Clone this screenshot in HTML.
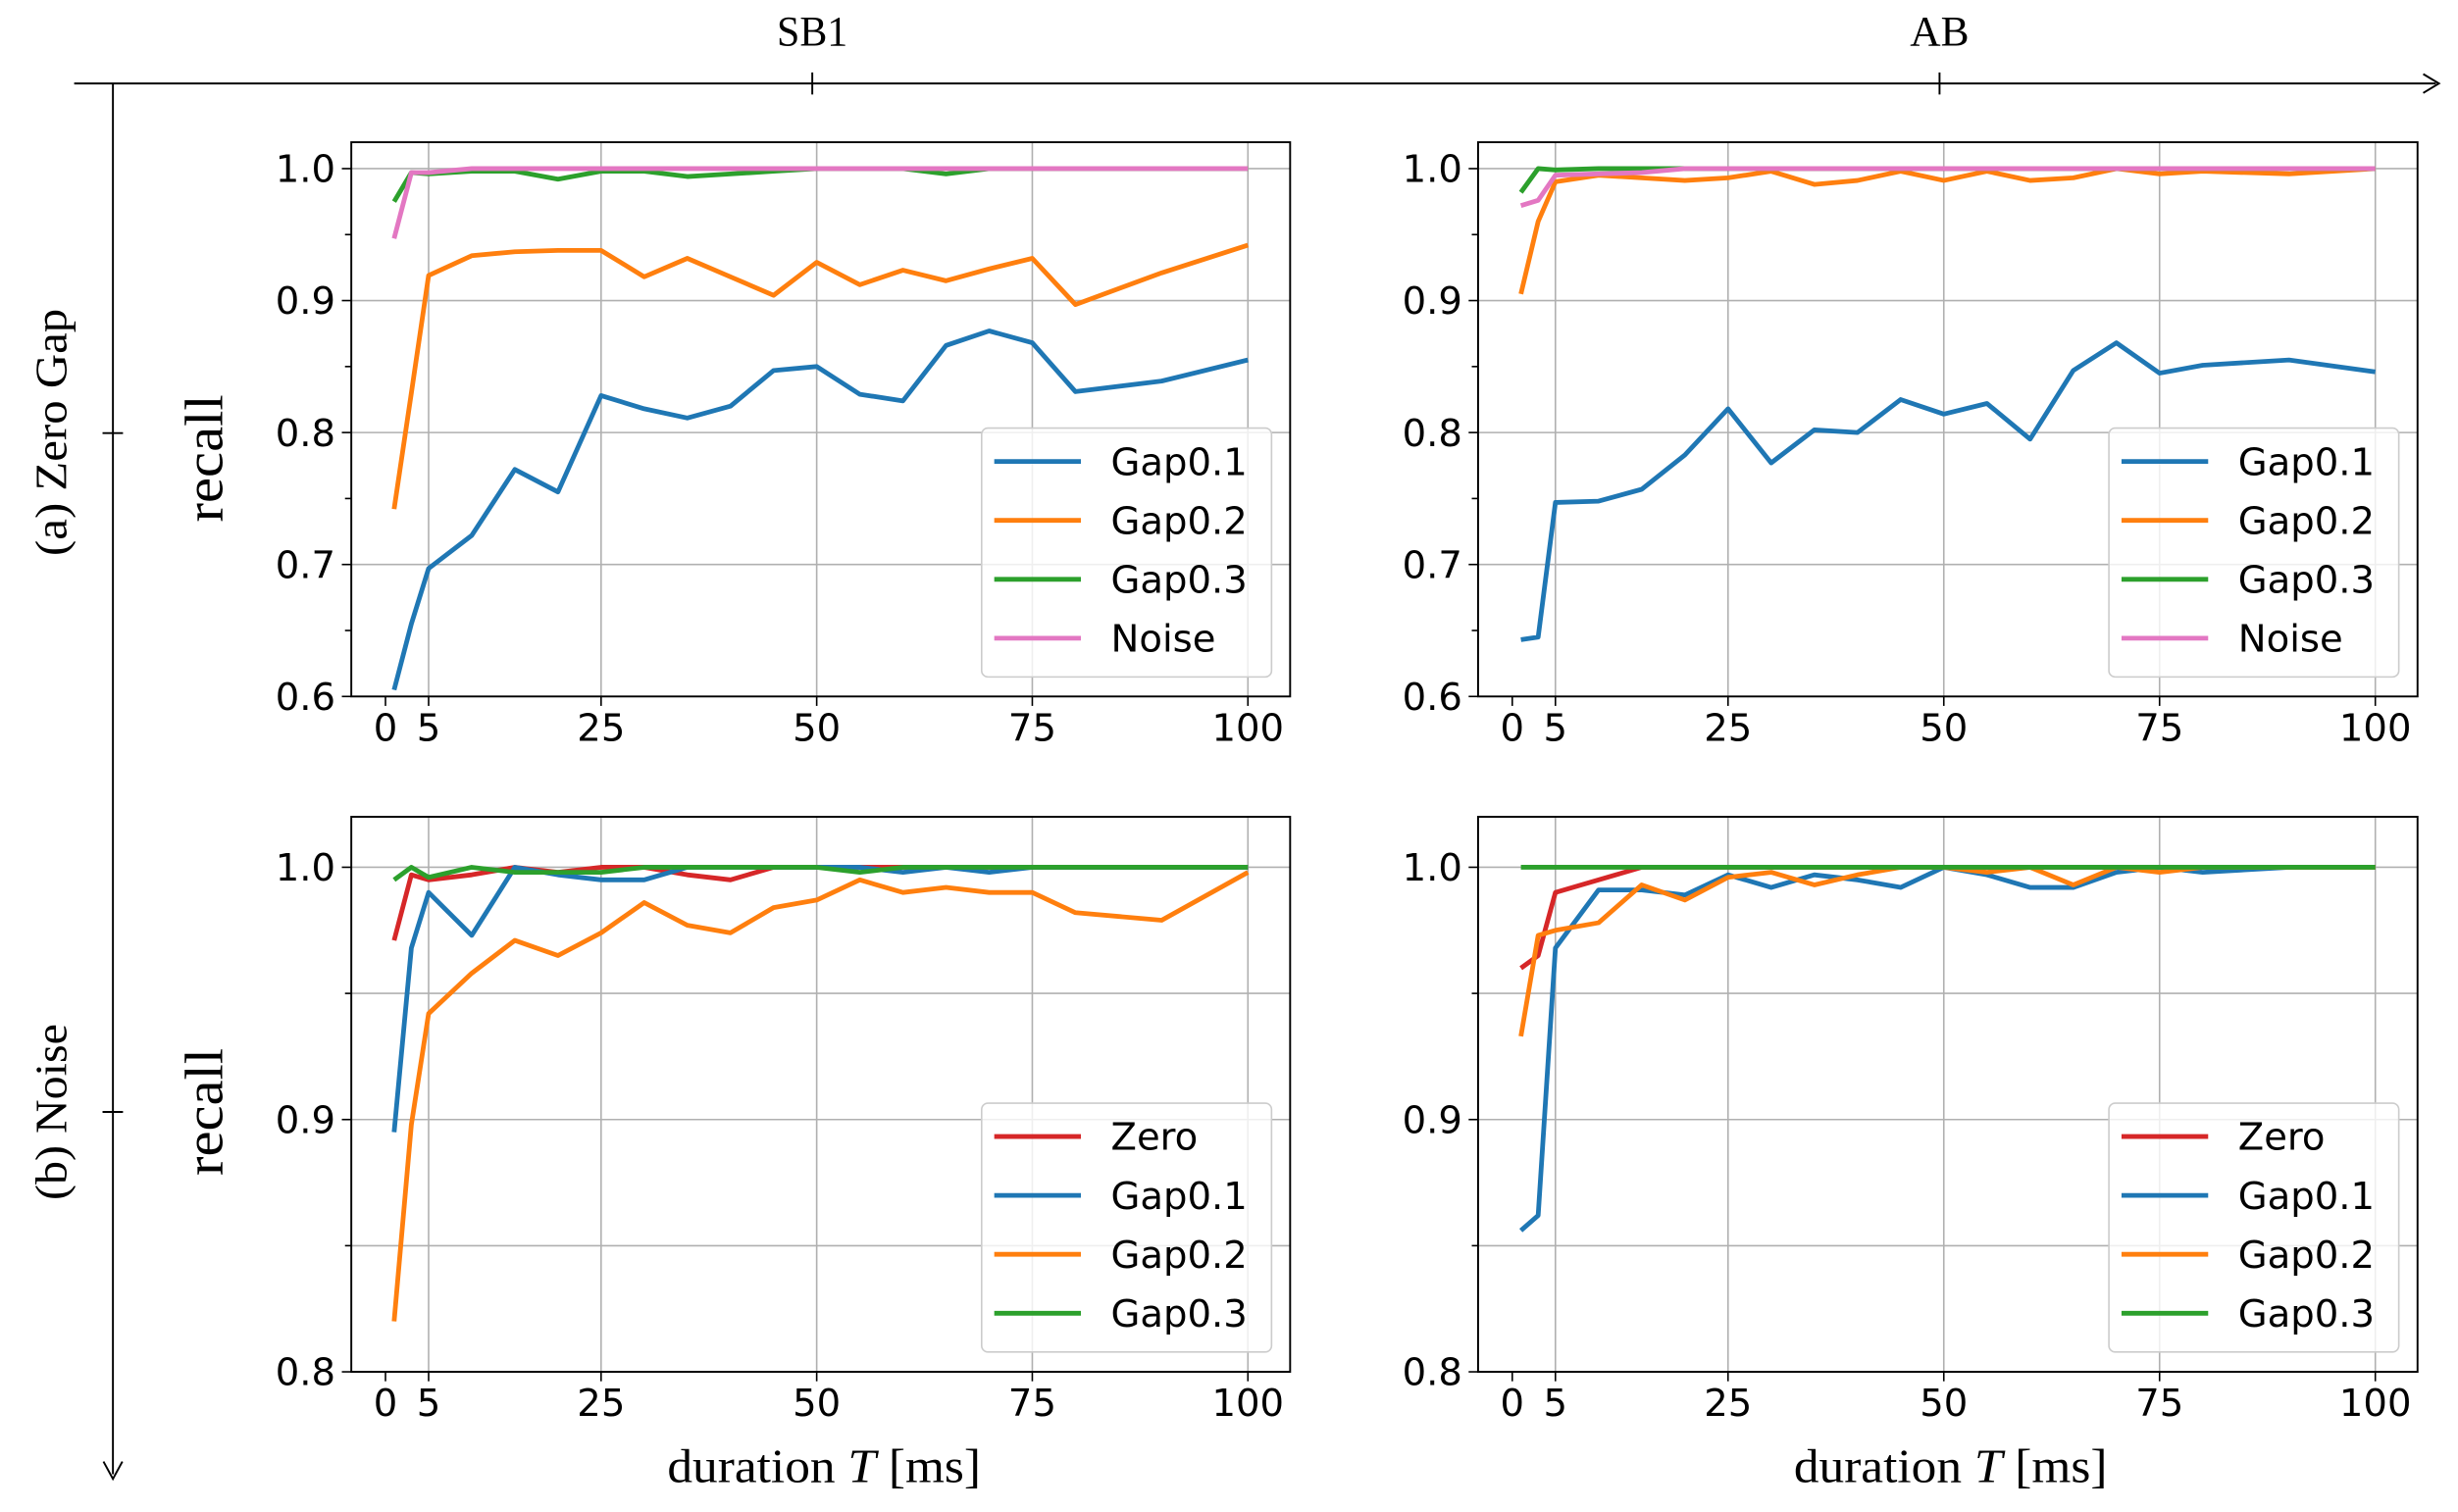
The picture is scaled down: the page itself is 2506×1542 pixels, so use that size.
<!DOCTYPE html>
<html><head><meta charset="utf-8"><style>
html,body{margin:0;padding:0;background:#fff}
svg{display:block}
.tk{font-family:"DejaVu Sans",sans-serif;font-size:24px;fill:#000}
.sf{font-family:"Liberation Serif",serif;fill:#000}
</style></head><body>
<svg id="fig" width="2506" height="1542" viewBox="0 0 1560 960" xmlns="http://www.w3.org/2000/svg">
<g>
<line x1="47" y1="53" x2="1546" y2="53" stroke="#000" stroke-width="1.2"/>
<path d="M1538 47 L1548 53 L1538 59" fill="none" stroke="#000" stroke-width="1.2"/>
<line x1="515.5" y1="46" x2="515.5" y2="60" stroke="#000" stroke-width="1.2"/>
<line x1="1231" y1="46" x2="1231" y2="60" stroke="#000" stroke-width="1.2"/>
<text class="sf" x="515.5" y="29" font-size="27" text-anchor="middle" textLength="45" lengthAdjust="spacingAndGlyphs">SB1</text>
<text class="sf" x="1231" y="29" font-size="27" text-anchor="middle">AB</text>
<line x1="71.6" y1="53" x2="71.6" y2="936" stroke="#000" stroke-width="1.2"/>
<path d="M65.6 928 L71.6 939 L77.6 928" fill="none" stroke="#000" stroke-width="1.2"/>
<line x1="65" y1="275" x2="78" y2="275" stroke="#000" stroke-width="1.2"/>
<line x1="65" y1="706" x2="78" y2="706" stroke="#000" stroke-width="1.2"/>
<text class="sf" font-size="28" text-anchor="middle" textLength="157" lengthAdjust="spacingAndGlyphs" transform="translate(42,274.5) rotate(-90)">(a) Zero Gap</text>
<text class="sf" font-size="28" text-anchor="middle" textLength="112" lengthAdjust="spacingAndGlyphs" transform="translate(42,706) rotate(-90)">(b) Noise</text>
<text class="sf" font-size="34" text-anchor="middle" textLength="81" lengthAdjust="spacingAndGlyphs" transform="translate(141,291) rotate(-90)">recall</text>
<text class="sf" font-size="34" text-anchor="middle" textLength="81" lengthAdjust="spacingAndGlyphs" transform="translate(141,706) rotate(-90)">recall</text>
<text class="sf" x="523" y="941" font-size="30" text-anchor="middle" textLength="199" lengthAdjust="spacingAndGlyphs">duration <tspan font-style="italic">T</tspan> [ms]</text>
<text class="sf" x="1238" y="941" font-size="30" text-anchor="middle" textLength="199" lengthAdjust="spacingAndGlyphs">duration <tspan font-style="italic">T</tspan> [ms]</text>
</g>
</svg>
<script>
const xs=[1,3,5,10,15,20,25,30,35,40,45,50,55,60,65,70,75,80,90,100];
const xTicks=[0,5,25,50,75,100];
const yTicksTop=[0.6,0.7,0.8,0.9,1.0];
const yTicksBot=[0.8,0.9,1.0];
const tl_g1=[0.605,0.655,0.697,0.722,0.772,0.755,0.828,0.818,0.811,0.820,0.847,0.850,0.829,0.824,0.866,0.877,0.868,0.831,0.839,0.855];
const tl_g2=[0.742,0.83,0.919,0.934,0.937,0.938,0.938,0.918,0.932,0.918,0.904,0.929,0.912,0.923,0.915,0.924,0.932,0.897,0.921,0.942];
const tl_g3=[0.975,0.997,0.996,0.998,0.998,0.992,0.998,0.998,0.994,0.996,0.998,1,1,1,0.996,1,1,1,1,1];
const tl_n=[0.947,0.997,0.997,1,1,1,1,1,1,1,1,1,1,1,1,1,1,1,1,1];
const tr_g1=[0.643,0.645,0.747,0.748,0.757,0.783,0.818,0.777,0.802,0.800,0.825,0.814,0.822,0.795,0.847,0.868,0.845,0.851,0.855,0.846];
const tr_g2=[0.905,0.96,0.99,0.995,0.993,0.991,0.993,0.998,0.988,0.991,0.998,0.991,0.998,0.991,0.993,1.0,0.996,0.998,0.996,1];
const tr_g3=[0.982,1.0,0.999,1,1,1,1,1,1,1,1,1,1,1,1,1,1,1,1,1];
const tr_n=[0.972,0.976,0.995,0.996,0.997,1,1,1,1,1,1,1,1,1,1,1,1,1,1,1];
const bl_z=[0.971,0.997,0.995,0.997,1.0,0.998,1,1,0.997,0.995,1,1,1,1,1,1,1,1,1,1];
const bl_g1=[0.895,0.968,0.990,0.973,1.0,0.997,0.995,0.995,1,1,1,1,1,0.998,1,0.998,1,1,1,1];
const bl_g2=[0.820,0.898,0.942,0.958,0.971,0.965,0.974,0.986,0.977,0.974,0.984,0.987,0.995,0.990,0.992,0.990,0.990,0.982,0.979,0.998];
const bl_g3=[0.995,1.0,0.996,1.0,0.998,0.998,0.998,1,1,1,1,1,0.998,1,1,1,1,1,1,1];
const br_z=[0.960,0.965,0.990,0.995,1,1,1,1,1,1,1,1,1,1,1,1,1,1,1,1];
const br_g1=[0.856,0.862,0.968,0.991,0.991,0.989,0.997,0.992,0.997,0.995,0.992,1.0,0.997,0.992,0.992,0.998,1.0,0.998,1,1];
const br_g2=[0.933,0.973,0.975,0.978,0.993,0.987,0.996,0.998,0.993,0.997,1.0,1.0,0.998,1.0,0.993,1.0,0.998,1,1,1];
const br_g3=[1,1,1,1,1,1,1,1,1,1,1,1,1,1,1,1,1,1,1,1];
const C={g1:'#1f77b4',g2:'#ff7f0e',g3:'#2ca02c',n:'#e377c2',z:'#d62728'};
const NS='http://www.w3.org/2000/svg';
const svg=document.getElementById('fig');
function mk(t,a,p){const e=document.createElementNS(NS,t);for(const k in a)e.setAttribute(k,a[k]);(p||svg).appendChild(e);return e;}
function panel(name,L,R,T,B,ymin,ymax,yTicks,minor,grids,series,legend){
  const g=mk('g',{});
  
  
  const x0=L+21.7,x1=R-26.8;
  const X=v=>x0+(v/100)*(x1-x0);
  const Y=v=>B-(v-ymin)/(ymax-ymin)*(B-T);
  xTicks.forEach(t=>{if(t>0){mk('line',{x1:X(t),x2:X(t),y1:T,y2:B,stroke:'#b0b0b0','stroke-width':1},g);}});
  grids.forEach(t=>mk('line',{x1:L,x2:R,y1:Y(t),y2:Y(t),stroke:'#b0b0b0','stroke-width':1},g));
  minor.forEach(t=>mk('line',{x1:L-4,x2:L,y1:Y(t),y2:Y(t),stroke:'#000','stroke-width':1},g));
  const tl=mk('g',{},g);
  
  
  xTicks.forEach(t=>{mk('line',{x1:X(t),x2:X(t),y1:B,y2:B+6,stroke:'#000','stroke-width':1},tl);
    const tx=mk('text',{x:X(t),y:B+28,'text-anchor':'middle',class:'tk'},tl);tx.textContent=t;});
  const yl=mk('g',{},g);
  
  
  yTicks.forEach(t=>{mk('line',{x1:L-6,x2:L,y1:Y(t),y2:Y(t),stroke:'#000','stroke-width':1},yl);
    const tx=mk('text',{x:L-10,y:Y(t)+8.5,'text-anchor':'end',class:'tk'},yl);tx.textContent=t.toFixed(1);});
  series.forEach(s=>{
    const p=mk('polyline',{points:xs.map((x,i)=>X(x)+','+Y(s.d[i])).join(' '),fill:'none',stroke:s.c,'stroke-width':3,'stroke-linejoin':'round'},g);
    
    
  });
  mk('rect',{x:L,y:T,width:R-L,height:B-T,fill:'none',stroke:'#000','stroke-width':1.2},g);
  const lg=mk('g',{},g);
  
  
  mk('rect',{x:legend[0],y:legend[1],width:184,height:158,rx:4,fill:'rgba(255,255,255,0.8)',stroke:'#ccc','stroke-width':1},lg);
  series.forEach((s,i)=>{const y=legend[1]+21.2+i*37.4;
    mk('line',{x1:legend[0]+8,x2:legend[0]+63,y1:y,y2:y,stroke:s.c,'stroke-width':3},lg);
    const tx=mk('text',{x:legend[0]+82,y:y+8.5,class:'tk'},lg);tx.textContent=s.n;
    
    });
}
const topMinor=[0.65,0.75,0.85,0.95];
panel('panel-sb1-zero-gap',222.9,818.8,90.3,442.2,0.6,1.02,yTicksTop,topMinor,[0.7,0.8,0.9,1.0],
 [{n:'Gap0.1',c:C.g1,d:tl_g1},{n:'Gap0.2',c:C.g2,d:tl_g2},{n:'Gap0.3',c:C.g3,d:tl_g3},{n:'Noise',c:C.n,d:tl_n}],[623,271.8]);
panel('panel-ab-zero-gap',938.1,1534.4,90.3,442.2,0.6,1.02,yTicksTop,topMinor,[0.7,0.8,0.9,1.0],
 [{n:'Gap0.1',c:C.g1,d:tr_g1},{n:'Gap0.2',c:C.g2,d:tr_g2},{n:'Gap0.3',c:C.g3,d:tr_g3},{n:'Noise',c:C.n,d:tr_n}],[1338.5,271.8]);
panel('panel-sb1-noise',222.9,818.8,518.6,871,0.8,1.02,yTicksBot,[0.85,0.95],[0.85,0.9,0.95,1.0],
 [{n:'Zero',c:C.z,d:bl_z},{n:'Gap0.1',c:C.g1,d:bl_g1},{n:'Gap0.2',c:C.g2,d:bl_g2},{n:'Gap0.3',c:C.g3,d:bl_g3}],[623,700.4]);
panel('panel-ab-noise',938.1,1534.4,518.6,871,0.8,1.02,yTicksBot,[0.85,0.95],[0.85,0.9,0.95,1.0],
 [{n:'Zero',c:C.z,d:br_z},{n:'Gap0.1',c:C.g1,d:br_g1},{n:'Gap0.2',c:C.g2,d:br_g2},{n:'Gap0.3',c:C.g3,d:br_g3}],[1338.5,700.4]);
</script>
</body></html>
